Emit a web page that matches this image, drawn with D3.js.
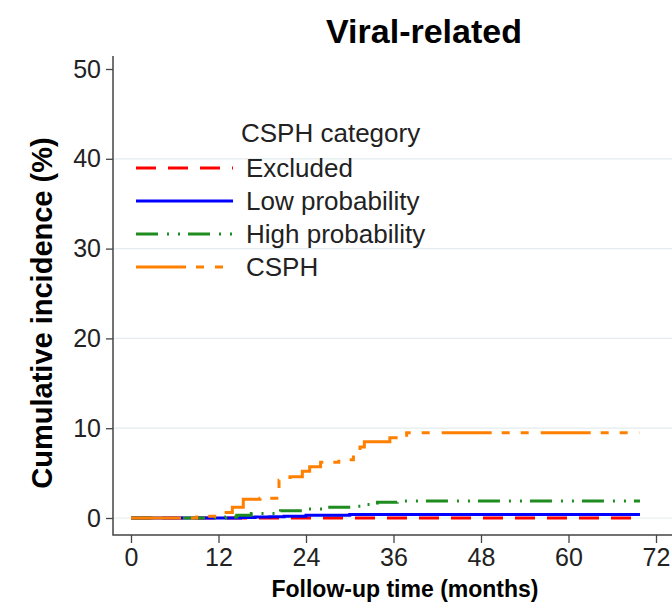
<!DOCTYPE html>
<html>
<head>
<meta charset="utf-8">
<script src="https://cdn.jsdelivr.net/npm/d3@7"></script>
<style>
  body { margin: 0; background: #fff; }
  text { font-family: "Liberation Sans", Arial, sans-serif; }
</style>
</head>
<body>
<script>
// data (months, cumulative incidence %)
var xTicks = [0, 12, 24, 36, 48, 60, 72]
var yTicks = [0, 10, 20, 30, 40, 50]

var excludedT = [0, 68.7]
var excludedV = [0, 0]

var lowT = [0, 15, 17, 19, 21, 24, 30, 69.8]
var lowV = [0, 0.05, 0.1, 0.15, 0.2, 0.3, 0.38, 0.38]

var highT = [0, 13, 14.5, 16.5, 20.5, 24, 27, 30.5, 32, 33.8, 36.5, 69.8]
var highV = [0, 0.1, 0.3, 0.5, 0.8, 1.0, 1.2, 1.3, 1.5, 1.75, 1.9, 1.9]

var csphT = [0, 9, 10, 11.8, 13.9, 15.4, 17.7, 20, 20.3, 21.8, 23.5, 24.5, 26, 28.5, 30.5, 31.4, 32, 35.5, 37.8, 69.8]
var csphV = [0, 0.1, 0.2, 0.6, 1.2, 2.1, 2.2, 3.0, 4.2, 4.6, 5.2, 5.7, 6.2, 6.5, 6.8, 7.9, 8.5, 8.95, 9.5, 9.5]

var seriesNames = ["Excluded", "Low probability", "High probability", "CSPH"]

var width = 672
var height = 606

var svg = d3.select('body').append('svg')
    .attr('width', width)
    .attr('height', height)

var x = d3.scaleLinear().domain([0, 72]).range([131, 656])
var y = d3.scaleLinear().domain([0, 50]).range([518, 69])

var axisX = 113, axisY = 535

// gridlines
svg.selectAll('.grid')
    .data(yTicks.filter(function (d) { return d < 50 }))
    .enter().append('line')
    .attr('x1', axisX).attr('x2', width)
    .attr('y1', function (d) { return y(d) }).attr('y2', function (d) { return y(d) })
    .style('stroke', '#e3ecee').style('stroke-width', 1.2)

// axes
var gy = svg.append('g')
    .attr('transform', 'translate(' + axisX + ',0)')
    .call(d3.axisLeft(y).tickValues(yTicks).tickSize(7).tickPadding(5))
var gx = svg.append('g')
    .attr('transform', 'translate(0,' + axisY + ')')
    .call(d3.axisBottom(x).tickValues(xTicks).tickSize(8).tickPadding(5))

;[gx, gy].forEach(function (g) {
    g.select('.domain').remove()
    g.selectAll('line').style('stroke', '#444').style('stroke-width', 1.3)
    g.selectAll('text').style('font-size', '25px').style('fill', '#222')
        .style('font-family', '"Liberation Sans", Arial, sans-serif')
})

svg.append('path')
    .attr('d', 'M' + axisX + ',56V' + axisY + 'H' + width)
    .style('fill', 'none').style('stroke', '#444').style('stroke-width', 1.5)

// lines
var line = d3.line()
    .x(function (d) { return x(d[0]) })
    .y(function (d) { return y(d[1]) })
    .curve(d3.curveStepAfter)

var styles = [
    { color: '#ff0000', dash: '20,12' },
    { color: '#0000ff', dash: null },
    { color: '#1e8c1e', dash: '22,9,2,9,2,8' },
    { color: '#ff8000', dash: '50,10,8,11,8,12' }
]

var series = [
    d3.zip(excludedT, excludedV),
    d3.zip(lowT, lowV),
    d3.zip(highT, highV),
    d3.zip(csphT, csphV)
]

series.forEach(function (s, i) {
    svg.append('path')
        .attr('d', line(s))
        .style('fill', 'none')
        .style('stroke', styles[i].color)
        .style('stroke-width', 3)
        .style('stroke-dasharray', styles[i].dash)
})

// legend
svg.append('text')
    .attr('x', 241).attr('y', 142)
    .style('font-size', '26px').style('fill', '#222')
    .text('CSPH category')

var legendY = [168, 201, 234, 267]
seriesNames.forEach(function (name, i) {
    svg.append('line')
        .attr('x1', 136).attr('x2', 233)
        .attr('y1', legendY[i]).attr('y2', legendY[i])
        .style('stroke', styles[i].color)
        .style('stroke-width', 3)
        .style('stroke-dasharray', styles[i].dash)
    svg.append('text')
        .attr('x', 246).attr('y', legendY[i] + 9)
        .style('font-size', '26px').style('fill', '#222')
        .text(name)
})

// titles
svg.append('text')
    .attr('x', 424).attr('y', 43)
    .attr('text-anchor', 'middle')
    .style('font-size', '34px').style('font-weight', 'bold')
    .text('Viral-related')

svg.append('text')
    .attr('x', 405).attr('y', 597)
    .attr('text-anchor', 'middle')
    .style('font-size', '23px').style('font-weight', 'bold')
    .text('Follow-up time (months)')

svg.append('text')
    .attr('transform', 'translate(52,313) rotate(-90)')
    .attr('text-anchor', 'middle')
    .style('font-size', '29px').style('font-weight', 'bold')
    .text('Cumulative incidence (%)')
</script>
</body>
</html>
